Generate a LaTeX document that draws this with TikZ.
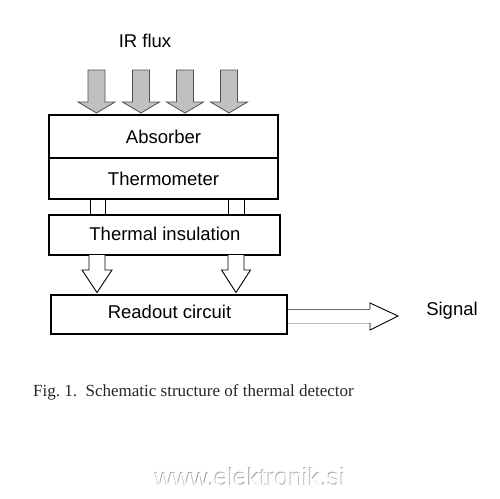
\documentclass[tikz,border=0pt]{standalone}
\usepackage{fontspec}
\setmainfont{Liberation Sans}
\newfontfamily\capfont{Liberation Serif}
\usetikzlibrary{calc}
\definecolor{irfill}{RGB}{192,192,192}
\definecolor{iredge}{RGB}{80,80,80}
\tikzset{
  x=1pt,y=-1pt,
  layer/.style={draw=black,line width=1.6pt,fill=white},
  lbl/.style={anchor=base,font=\fontsize{18.5}{20}\selectfont,inner sep=0pt},
  irarrow/.pic={\filldraw[fill=irfill,draw=iredge,line width=0.8pt]
     (-8.5,-43) -- (8.5,-43) -- (8.5,-11) -- (18.5,-11) -- (0,0) -- (-18.5,-11) -- (-8.5,-11) -- cycle;},
}
\begin{document}
\begin{tikzpicture}
\useasboundingbox (0,0) rectangle (500,498);
% layers
\draw[layer] (49,115) rectangle (278,158);
\draw[layer] (49,158) rectangle (278,199);
\draw[layer] (49,215) rectangle (280,255);
\draw[layer] (51,295) rectangle (287,334);
% thick separator
\draw[line width=2.6pt] (49,158) -- (278,158);
% posts
\draw[line width=1pt] (90,199) -- (90,215) (105,199) -- (105,215);
\draw[line width=1pt] (228,199) -- (228,215) (244,199) -- (244,215);
% IR arrows
\foreach \cx in {96.5,141,185,229}
  \pic at (\cx,113) {irarrow};
% lower arrows
\foreach \cx/\hw in {97/15,236/14.5}
  \draw[line width=0.9pt,fill=white] ($(\cx,255)+(-8,0)$) -- ($(\cx,270)+(-8,0)$) -- ($(\cx,270)+(-\hw,0)$) -- (\cx,292.5) -- ($(\cx,270)+(\hw,0)$) -- ($(\cx,270)+(8,0)$) -- ($(\cx,255)+(8,0)$);
% signal arrow
\draw[line width=1pt,draw=gray!80!black] (288,309) -- (370,309);
\draw[line width=1pt,draw=gray!55] (288,323) -- (370,323);
\draw[line width=0.9pt] (370,309) -- (370,303) -- (398,316) -- (370,330) -- (370,323);
% labels
\node[lbl] (ir) at (145,47) {IR flux};
\node[lbl] (abs) at (163.5,143) {Absorber};
\node[lbl] (thermo) at (163.5,185) {Thermometer};
\node[lbl] (ins) at (165,240) {Thermal insulation};
\node[lbl] (ro) at (169.5,318) {Readout circuit};
\node[lbl] (sig) at (452,315.5) {Signal};
% caption
\node[anchor=base west,inner sep=0pt,font=\capfont\fontsize{17}{19}\selectfont,text=black!85] (cap) at (33,396) {Fig.~1.\ \ Schematic structure of thermal detector};
% watermark
\node[anchor=base west,inner sep=0pt,font=\fontsize{24.8}{26}\selectfont,text=gray!70] at (154.2,485.3) {www.elektronik.si};
\node[anchor=base west,inner sep=0pt,font=\fontsize{24.8}{26}\selectfont,text=white] (wm) at (155,486) {www.elektronik.si};
\end{tikzpicture}
\end{document}
